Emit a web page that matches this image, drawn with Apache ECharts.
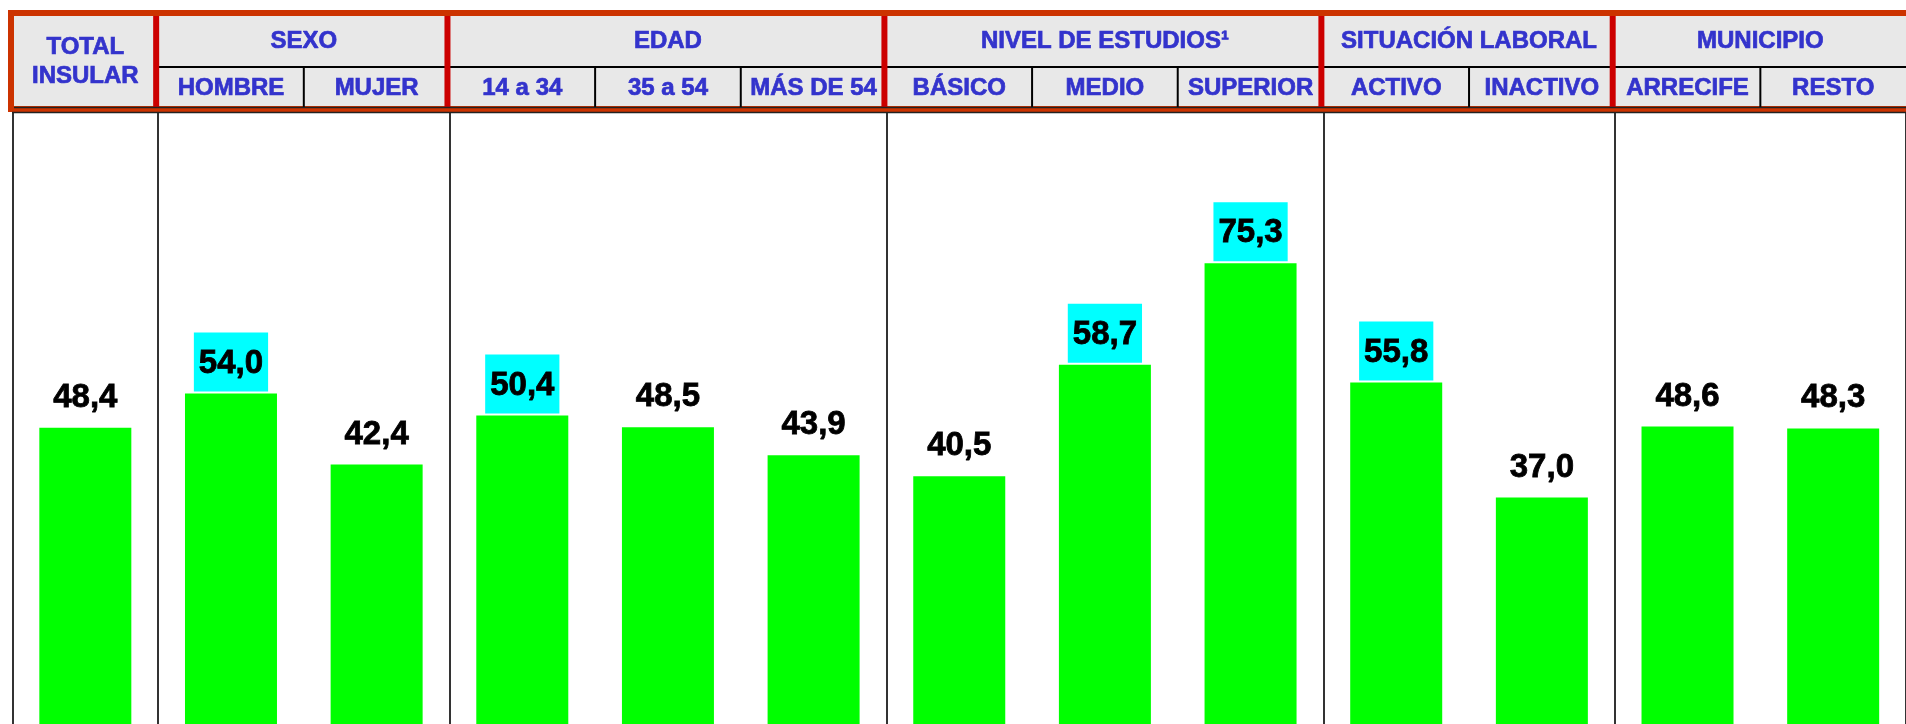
<!DOCTYPE html>
<html>
<head>
<meta charset="utf-8">
<script src="https://cdn.jsdelivr.net/npm/echarts@6/dist/echarts.min.js"></script>
<style>
	html, body { margin: 0; padding: 0; background: #fff; }
	#chart { width: 1906px; height: 724px; }
</style>
</head>
<body>
<div id="chart"></div>
<script>
const categories = ['TOTAL INSULAR', 'HOMBRE', 'MUJER', '14 a 34', '35 a 54', 'MÁS DE 54', 'BÁSICO', 'MEDIO', 'SUPERIOR', 'ACTIVO', 'INACTIVO', 'ARRECIFE', 'RESTO']
const values = [48.4, 54.0, 42.4, 50.4, 48.5, 43.9, 40.5, 58.7, 75.3, 55.8, 37.0, 48.6, 48.3]
const highlighted = ['HOMBRE', '14 a 34', 'MEDIO', 'SUPERIOR', 'ACTIVO']
const groupNames = ['TOTAL\nINSULAR', 'SEXO', 'EDAD', 'NIVEL DE ESTUDIOS¹', 'SITUACIÓN LABORAL', 'MUNICIPIO']
const groupSpans = [1, 2, 3, 3, 2, 2]

const font = '"Liberation Sans", Arial, sans-serif'
const headColor = '#3333CC'

const groupStarts = []
let acc = 0
groupSpans.forEach(s => {
	groupStarts.push(acc)
	acc += s
})

const chart = echarts.init(document.getElementById('chart'))

chart.setOption({
	animation: false,
	grid: { left: 12.5, top: 112, width: 1904.5, height: 617 },
	xAxis: {
		type: 'category',
		data: categories,
		axisLabel: { show: false },
		axisLine: { show: false },
		axisTick: { show: false },
		splitLine: {
			show: true,
			interval: i => groupStarts.includes(i),
			lineStyle: { color: '#333', width: 2 }
		}
	},
	yAxis: { type: 'value', min: 0, max: 100, show: false },
	series: [{
		type: 'bar',
		barWidth: 92,
		itemStyle: { color: '#00FF00' },
		data: values.map((v, i) => ({
			value: v,
			label: { backgroundColor: highlighted.includes(categories[i]) ? '#00FFFF' : 'transparent' }
		})),
		label: {
			show: true,
			position: 'top',
			distance: 2,
			padding: [13, 5, 10, 5],
			lineHeight: 36,
			fontSize: 33,
			fontWeight: 'bold',
			fontFamily: font,
			color: '#000',
			textBorderColor: '#000',
			textBorderWidth: 0.8,
			formatter: p => p.value.toFixed(1).replace('.', ',')
		}
	}]
})

// header table, placed on the category bands
const centers = categories.map(c => chart.convertToPixel({ xAxisIndex: 0 }, c))
const band = centers[1] - centers[0]
const edge = i => centers[0] - band / 2 + i * band

const headText = (text, x, y) => ({
	type: 'text', silent: true, z: 5,
	x: x, y: y,
	style: {
		text: text, fill: headColor,
		stroke: headColor, lineWidth: 0.7,
		fontSize: 24, fontWeight: 'bold', fontFamily: font,
		lineHeight: 29,
		align: 'center', verticalAlign: 'middle'
	}
})

const elements = []
elements.push({
	type: 'rect', silent: true, z: 1,
	shape: { x: 11, y: 13, width: 2000, height: 96 },
	style: { fill: '#E8E8E8', stroke: '#CC3300', lineWidth: 6 }
})
elements.push({
	type: 'line', silent: true, z: 2,
	shape: { x1: edge(1), y1: 67, x2: 2000, y2: 67 },
	style: { stroke: '#000', lineWidth: 2 }
})
for (let i = 1; i < categories.length; i++) {
	if (groupStarts.includes(i)) {
		elements.push({
			type: 'line', silent: true, z: 3,
			shape: { x1: edge(i) - 2, y1: 16, x2: edge(i) - 2, y2: 108 },
			style: { stroke: '#CC0000', lineWidth: 6 }
		})
	} else {
		elements.push({
			type: 'line', silent: true, z: 2,
			shape: { x1: edge(i), y1: 67, x2: edge(i), y2: 107 },
			style: { stroke: '#000', lineWidth: 2 }
		})
	}
}
elements.push({
	type: 'line', silent: true, z: 4,
	shape: { x1: 14, y1: 107.5, x2: 2000, y2: 107.5 },
	style: { stroke: '#222', lineWidth: 1.5 }
})
elements.push({
	type: 'line', silent: true, z: 4,
	shape: { x1: 12, y1: 112.5, x2: 2000, y2: 112.5 },
	style: { stroke: '#222', lineWidth: 1.5 }
})

groupNames.forEach((name, g) => {
	const start = groupStarts[g]
	const x = (edge(start) + edge(start + groupSpans[g])) / 2
	elements.push(headText(name, x, g === 0 ? 62 : 41))
})
categories.forEach((name, i) => {
	if (i > 0) elements.push(headText(name, centers[i], 88))
})

chart.setOption({ graphic: elements })
</script>
</body>
</html>
